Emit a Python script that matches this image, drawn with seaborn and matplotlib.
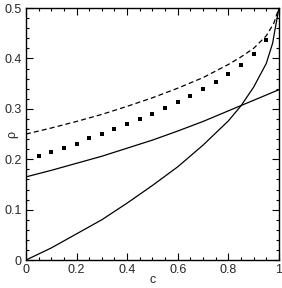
import numpy as np
import pandas as pd
import matplotlib
matplotlib.use("Agg")
import matplotlib.pyplot as plt
import seaborn as sns
from matplotlib.ticker import MultipleLocator

# Dashed curve
c_dash = [0.0, 0.1, 0.2, 0.3, 0.4, 0.5, 0.6, 0.7, 0.8, 0.85, 0.9, 0.95, 0.98, 1.0]
rho_dash = [0.25, 0.262, 0.275, 0.289, 0.305, 0.322, 0.341, 0.362, 0.388, 0.403, 0.42, 0.445, 0.47, 0.5]

# Square dots
c_dots = [0.05, 0.10, 0.15, 0.20, 0.25, 0.30, 0.35, 0.40, 0.45, 0.50,
          0.55, 0.60, 0.65, 0.70, 0.75, 0.80, 0.85, 0.90, 0.95]
rho_dots = [0.206, 0.214, 0.222, 0.230, 0.242, 0.250, 0.260, 0.270, 0.280, 0.290,
            0.302, 0.313, 0.325, 0.339, 0.353, 0.369, 0.387, 0.409, 0.437]

# Upper solid line
c_upper = [0.0, 0.1, 0.2, 0.3, 0.4, 0.5, 0.6, 0.7, 0.8, 0.9, 1.0]
rho_upper = [0.165, 0.178, 0.192, 0.206, 0.222, 0.238, 0.256, 0.275, 0.296, 0.317, 0.338]

# Lower solid curve
c_lower = [0.0, 0.1, 0.2, 0.3, 0.4, 0.5, 0.6, 0.7, 0.8, 0.85, 0.9, 0.95, 0.975, 1.0]
rho_lower = [0.0, 0.024, 0.052, 0.08, 0.113, 0.148, 0.185, 0.228, 0.276, 0.306, 0.343, 0.39, 0.43, 0.5]

x_ticks = [0, 0.2, 0.4, 0.6, 0.8, 1]
x_ticklabels = ["0", "0.2", "0.4", "0.6", "0.8", "1"]
y_ticks = [0, 0.1, 0.2, 0.3, 0.4, 0.5]
y_ticklabels = ["0", "0.1", "0.2", "0.3", "0.4", "0.5"]

sns.set_style("ticks")
plt.rcParams['font.family'] = ['Liberation Sans', 'DejaVu Sans']

fig = plt.figure(figsize=(2.82, 2.88), dpi=100)
ax = fig.add_axes([0.092, 0.097, 0.897, 0.875])

sns.lineplot(x=c_dash, y=rho_dash, ax=ax, color="black", lw=0.9,
             linestyle=(0, (4, 2.5)), estimator=None, sort=False)
sns.lineplot(x=c_upper, y=rho_upper, ax=ax, color="black", lw=0.9,
             estimator=None, sort=False)
sns.lineplot(x=c_lower, y=rho_lower, ax=ax, color="black", lw=0.9,
             estimator=None, sort=False)
sns.scatterplot(x=c_dots, y=rho_dots, ax=ax, color="black", marker="s",
                s=7, linewidth=0)

ax.set_xlim(0, 1)
ax.set_ylim(0, 0.5)
ax.set_xticks(x_ticks)
ax.set_xticklabels(x_ticklabels)
ax.set_yticks(y_ticks)
ax.set_yticklabels(y_ticklabels)
ax.xaxis.set_minor_locator(MultipleLocator(0.05))
ax.yaxis.set_minor_locator(MultipleLocator(0.02))
ax.tick_params(which="both", direction="in", top=True, right=True,
               color="black", width=0.8)
ax.tick_params(which="major", length=5, labelsize=9, pad=3)
ax.tick_params(which="minor", length=2.5)
for s in ax.spines.values():
    s.set_visible(True)
    s.set_color("black")
    s.set_linewidth(1.0)

ax.set_xlabel("c", fontsize=9)
ax.set_ylabel("ρ", fontsize=9)
ax.xaxis.set_label_coords(0.5, -0.08)
ax.yaxis.set_label_coords(-0.055, 0.5)
ax.xaxis.label.set_va("center")
ax.yaxis.label.set_va("center")

fig.savefig("out.png", dpi=100)
